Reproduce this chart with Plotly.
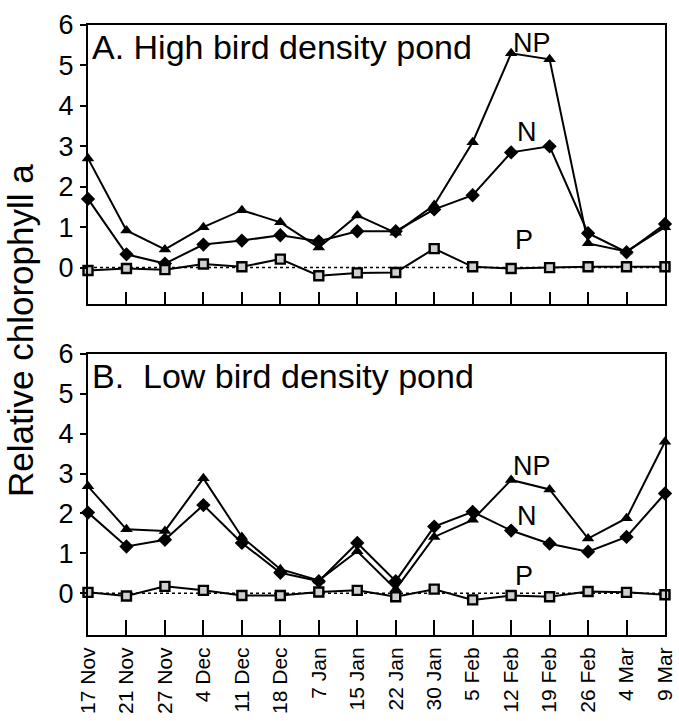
import plotly.graph_objects as go

dates = ["17 Nov", "21 Nov", "27 Nov", "4 Dec", "11 Dec", "18 Dec", "7 Jan", "15 Jan",
         "22 Jan", "30 Jan", "5 Feb", "12 Feb", "19 Feb", "26 Feb", "4 Mar", "9 Mar"]

# A. High bird density pond
high_np = [2.7, 0.92, 0.45, 1.0, 1.42, 1.12, 0.5, 1.29, 0.86, 1.55, 3.1, 5.3, 5.15, 0.6, 0.4, 1.0]
high_n = [1.7, 0.33, 0.1, 0.57, 0.67, 0.8, 0.65, 0.9, 0.9, 1.44, 1.79, 2.85, 3.0, 0.85, 0.38, 1.08]
high_p = [-0.07, -0.02, -0.05, 0.09, 0.02, 0.21, -0.2, -0.13, -0.12, 0.47, 0.02, -0.02, 0.0, 0.02, 0.02, 0.02]

# B. Low bird density pond
low_np = [2.68, 1.6, 1.56, 2.88, 1.41, 0.6, 0.32, 1.05, 0.1, 1.41, 1.84, 2.84, 2.6, 1.37, 1.88, 3.8]
low_n = [2.02, 1.17, 1.34, 2.21, 1.26, 0.51, 0.3, 1.26, 0.3, 1.67, 2.04, 1.57, 1.24, 1.04, 1.41, 2.5]
low_p = [0.02, -0.07, 0.17, 0.07, -0.06, -0.06, 0.03, 0.07, -0.09, 0.1, -0.17, -0.06, -0.09, 0.04, 0.02, -0.04]

panel_titles = ["A. High bird density pond", "B.  Low bird density pond"]
series_labels = ["NP", "N", "P"]
y_title = "Relative chlorophyll a"

FONT = "Liberation Sans, Arial, sans-serif"
xs = list(range(len(dates)))

fig = go.Figure()

def add_panel(np_vals, n_vals, p_vals, xa, ya):
    fig.add_trace(go.Scatter(x=xs, y=np_vals, xaxis=xa, yaxis=ya, mode="lines+markers",
                             line=dict(color="black", width=2),
                             marker=dict(symbol="triangle-up", size=11, color="black"),
                             showlegend=False, hoverinfo="skip", cliponaxis=False))
    fig.add_trace(go.Scatter(x=xs, y=n_vals, xaxis=xa, yaxis=ya, mode="lines+markers",
                             line=dict(color="black", width=2),
                             marker=dict(symbol="diamond", size=11, color="black"),
                             showlegend=False, hoverinfo="skip", cliponaxis=False))
    fig.add_trace(go.Scatter(x=xs, y=p_vals, xaxis=xa, yaxis=ya, mode="lines+markers",
                             line=dict(color="black", width=2),
                             marker=dict(symbol="square", size=9, color="#cfcfcf",
                                         line=dict(color="black", width=2.4)),
                             showlegend=False, hoverinfo="skip", cliponaxis=False))

add_panel(high_np, high_n, high_p, "x", "y")
add_panel(low_np, low_n, low_p, "x2", "y2")

top_dom = [0.5426, 1.0]
bot_dom = [0.0, 0.4607]
top_range = [-0.9, 6]
bot_range = [-1.05, 6]

common_x = dict(range=[0, len(dates) - 1], tickvals=xs, ticktext=dates, showgrid=False,
                zeroline=False, showline=True, linecolor="black", linewidth=2, mirror=True,
                ticks="inside", tickcolor="black", tickwidth=1.5, automargin=False)
common_y = dict(showgrid=False, zeroline=False, showline=True, linecolor="black", linewidth=2,
                mirror=True, ticks="outside", ticklen=6, tickcolor="black", tickwidth=1.5,
                tickvals=[0, 1, 2, 3, 4, 5, 6], tickfont=dict(size=27, color="black", family=FONT),
                ticklabelstandoff=1, automargin=False)
inner_y = dict(showgrid=False, zeroline=False, showline=False, ticks="inside", ticklen=6,
               tickcolor="black", tickwidth=1.5, tickvals=[0, 1, 2, 3, 4, 5, 6],
               showticklabels=False)

fig.update_layout(
    width=679, height=721, autosize=False,
    margin=dict(l=88, r=14, t=25, b=86),
    paper_bgcolor="white", plot_bgcolor="white",
    font=dict(family=FONT, color="black"),
    xaxis=dict(**common_x, domain=[0, 1], anchor="y", showticklabels=False, ticklen=12),
    yaxis=dict(**common_y, domain=top_dom, anchor="x", range=top_range),
    xaxis2=dict(**common_x, domain=[0, 1], anchor="y2", ticklen=15, tickangle=-90,
                ticklabelstandoff=2, ticklabeloverflow="allow",
                tickfont=dict(size=21, color="black", family=FONT)),
    yaxis2=dict(**common_y, domain=bot_dom, anchor="x2", range=bot_range),
    yaxis3=dict(**inner_y, overlaying="y", anchor="x", range=top_range, side="left"),
    yaxis4=dict(**inner_y, overlaying="y2", anchor="x2", range=bot_range, side="left"),
)

# dotted zero reference lines
for xr, yr in (("x", "y"), ("x2", "y2")):
    fig.add_shape(type="line", xref=f"{xr} domain", yref=yr, x0=0, x1=1, y0=0, y1=0,
                  line=dict(color="black", width=1.5, dash="dot"), layer="below")

# panel titles
for t, xd, yd in zip(panel_titles, ("x domain", "x2 domain"), ("y domain", "y2 domain")):
    fig.add_annotation(text=t, xref=xd, yref=yd,
                       x=0.003, y=0.995, xanchor="left", yanchor="top", showarrow=False,
                       font=dict(size=34, color="black", family=FONT))

# series labels
label_pos_top = [(11.55, 5.55), (11.42, 3.35), (11.33, 0.68)]
label_pos_bot = [(11.55, 3.2), (11.42, 1.93), (11.33, 0.42)]
for lab, (lx, ly) in zip(series_labels, label_pos_top):
    fig.add_annotation(text=lab, x=lx, y=ly, xref="x", yref="y", showarrow=False,
                       font=dict(size=27, color="black", family=FONT))
for lab, (lx, ly) in zip(series_labels, label_pos_bot):
    fig.add_annotation(text=lab, x=lx, y=ly, xref="x2", yref="y2", showarrow=False,
                       font=dict(size=27, color="black", family=FONT))

# shared y-axis title
fig.add_annotation(text=y_title, xref="paper", yref="paper", x=-0.118, y=0.5,
                   textangle=-90, showarrow=False, xanchor="center", yanchor="middle",
                   font=dict(size=35, color="black", family=FONT))

fig.write_html("out.html")
